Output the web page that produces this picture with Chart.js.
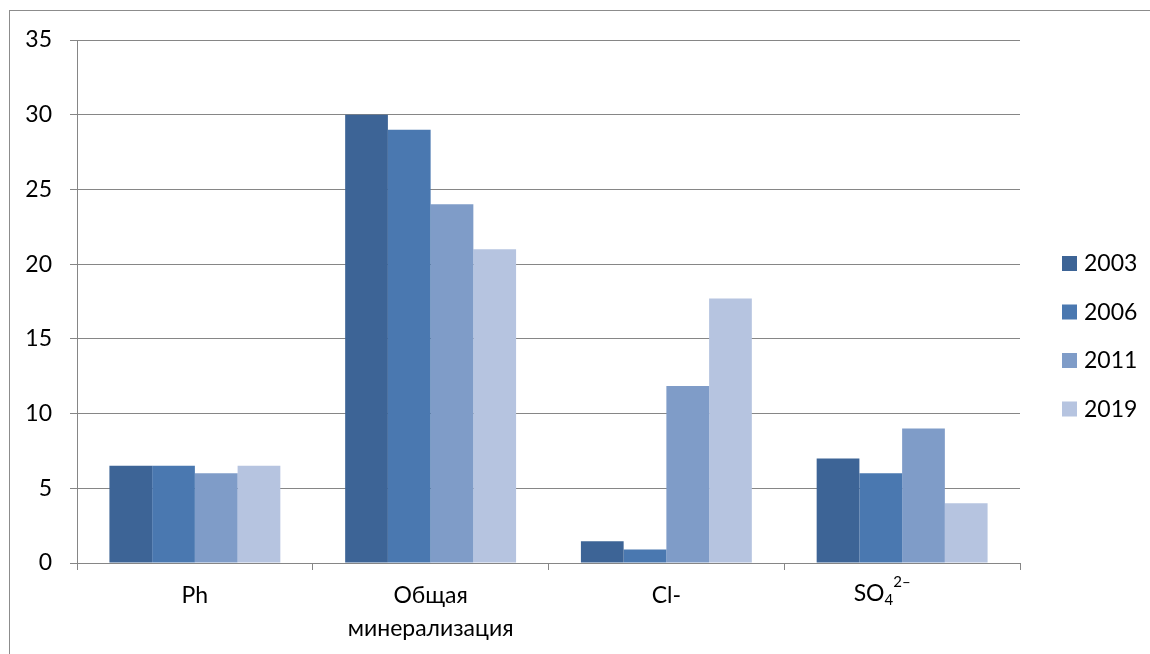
<!DOCTYPE html>
<html>
<head>
<meta charset="utf-8">
<script src="https://cdn.jsdelivr.net/npm/chart.js@4/dist/chart.umd.min.js"></script>
<style>
  html, body { margin: 0; padding: 0; background: #fff; overflow: hidden; }
  #wrap { position: relative; width: 1150px; height: 654px; }
  #frame { position: absolute; left: 9px; top: 10px; width: 1300px; height: 800px; border: 1px solid #8c8c8c; box-sizing: border-box; pointer-events: none; }
  canvas { position: absolute; left: 0; top: 0; }
</style>
</head>
<body>
<div id="wrap">
  <canvas id="c" width="1150" height="654"></canvas>
  <div id="frame"></div>
</div>
<script>
// Categories and yearly series
const categories = [['Ph'], ['Общая', 'минерализация'], ['Cl-'], ['SO₄²⁻']];
const years = ['2003', '2006', '2011', '2019'];
const values2003 = [6.5, 30, 1.45, 7];
const values2006 = [6.5, 29, 0.9, 6];
const values2011 = [6, 24, 11.85, 9];
const values2019 = [6.5, 21, 17.7, 4];
const yTicks = [0, 5, 10, 15, 20, 25, 30, 35];

const colors = ['#3d6496', '#4a78b0', '#7f9cc8', '#b6c4e0'];
const series = [values2003, values2006, values2011, values2019];
const FONT = 'Lato, "Open Sans", sans-serif';
const SIZE = 23;
const SULFATE = 3; // index of the category whose label has sub/superscripts

// Legend drawn at the right side, one row per year
const sideLegend = {
  id: 'sideLegend',
  afterDraw(chart) {
    const ctx = chart.ctx;
    ctx.save();
    ctx.font = SIZE + 'px ' + FONT;
    ctx.textBaseline = 'middle';
    chart.data.datasets.forEach((ds, i) => {
      const cy = 263 + i * 48.5;
      ctx.fillStyle = ds.backgroundColor;
      ctx.fillRect(1062, cy - 7, 15, 15);
      ctx.fillStyle = '#000';
      ctx.fillText(ds.label, 1084, cy + 1);
    });
    ctx.restore();
  }
};

// Sulfate label: "SO" with subscript 4 and superscript 2–
const sulfateLabel = {
  id: 'sulfateLabel',
  afterDraw(chart) {
    const ctx = chart.ctx;
    const x = chart.scales.x;
    const cx = x.getPixelForValue(SULFATE) - 20;
    const base = 601;
    ctx.save();
    ctx.fillStyle = '#000';
    ctx.textBaseline = 'alphabetic';
    ctx.font = SIZE + 'px ' + FONT;
    const wSO = ctx.measureText('SO').width;
    ctx.font = '15px ' + FONT;
    const w4 = ctx.measureText('4').width;
    const wSup = ctx.measureText('2–').width;
    let left = cx - (wSO + w4 + wSup) / 2;
    ctx.font = SIZE + 'px ' + FONT;
    ctx.fillText('SO', left, base);
    left += wSO;
    ctx.font = '15px ' + FONT;
    ctx.fillText('4', left, base + 4);
    left += w4;
    ctx.fillText('2–', left, base - 14);
    ctx.restore();
  }
};

new Chart(document.getElementById('c'), {
  type: 'bar',
  data: {
    labels: categories,
    datasets: years.map((y, i) => ({
      label: y,
      data: series[i],
      backgroundColor: colors[i],
      borderWidth: 0,
      categoryPercentage: 0.725,
      barPercentage: 1
    }))
  },
  options: {
    responsive: false,
    animation: false,
    devicePixelRatio: 1,
    layout: { padding: { left: 0, right: 130, top: 40, bottom: 0 } },
    plugins: { legend: { display: false }, tooltip: { enabled: false } },
    scales: {
      x: {
        grid: { display: true, drawOnChartArea: false, tickLength: 7, color: '#868686', lineWidth: 1 },
        border: { display: true, color: '#868686', width: 1 },
        ticks: {
          color: '#000',
          font: { family: FONT, size: SIZE, lineHeight: 1.43 },
          padding: 9,
          maxRotation: 0,
          callback(value, index) { return index === SULFATE ? '' : categories[index]; }
        },
        afterFit(scale) { scale.height = 91; }
      },
      y: {
        min: 0, max: 35,
        afterBuildTicks(scale) { scale.ticks = yTicks.map(v => ({ value: v })); },
        grid: { color: '#868686', lineWidth: 1, tickLength: 7 },
        border: { display: true, color: '#868686', width: 1 },
        ticks: { color: '#000', font: { family: FONT, size: SIZE }, padding: 18 },
        afterFit(scale) { scale.width = 77; }
      }
    }
  },
  plugins: [sideLegend, sulfateLabel]
});
</script>
</body>
</html>
